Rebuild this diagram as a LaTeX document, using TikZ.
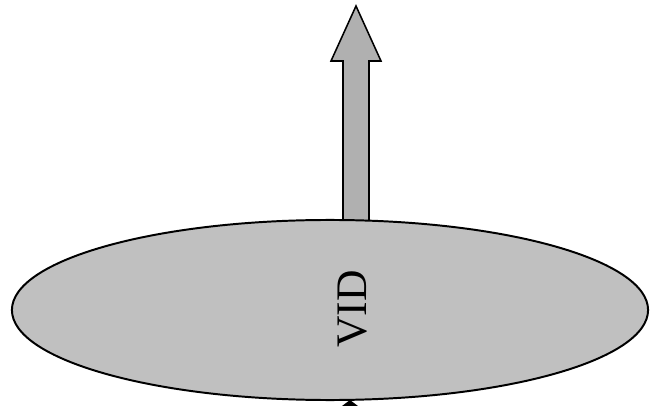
\documentclass[tikz,border=0pt]{standalone}
\usepackage{fontspec}
\setmainfont{Liberation Serif}
\usetikzlibrary{shapes.geometric, positioning, calc}
\definecolor{plategray}{RGB}{192,192,192}
\definecolor{shaftgray}{RGB}{176,176,176}

\begin{document}
\begin{tikzpicture}[x=0.025cm, y=-0.025cm,
    plate/.style={draw, ellipse, line width=1.4pt, fill=plategray, inner sep=0pt,
        minimum width=15.9cm, minimum height=4.5cm},
    shaft/.style={draw, line width=1.1pt, fill=shaftgray, line join=miter},
    label/.style={rotate=90, font=\fontsize{31}{31}\selectfont}
]
\useasboundingbox (0,0) rectangle (651,406);
\fill[white] (0,0) rectangle (651,406);

% outgoing arrow
\coordinate (base) at (356,226);
\coordinate (tip) at (356,6);
\draw[shaft] ($(base)+(-13,0)$) -- ($(tip)+(-13,55)$) -- ($(tip)+(-25,55)$) -- (tip)
    -- ($(tip)+(25,55)$) -- ($(tip)+(13,55)$) -- ($(base)+(13,0)$);

\node[plate] (vid) at (330,310) {};
\node[label] (vidtext) at (353,309) {VID};

% incoming tip below
\fill[black] ($(vid.south)+(20,-1)$) -- ($(vid.south)+(32,8)$) -- ($(vid.south)+(8,8)$) -- cycle;
\end{tikzpicture}
\end{document}
